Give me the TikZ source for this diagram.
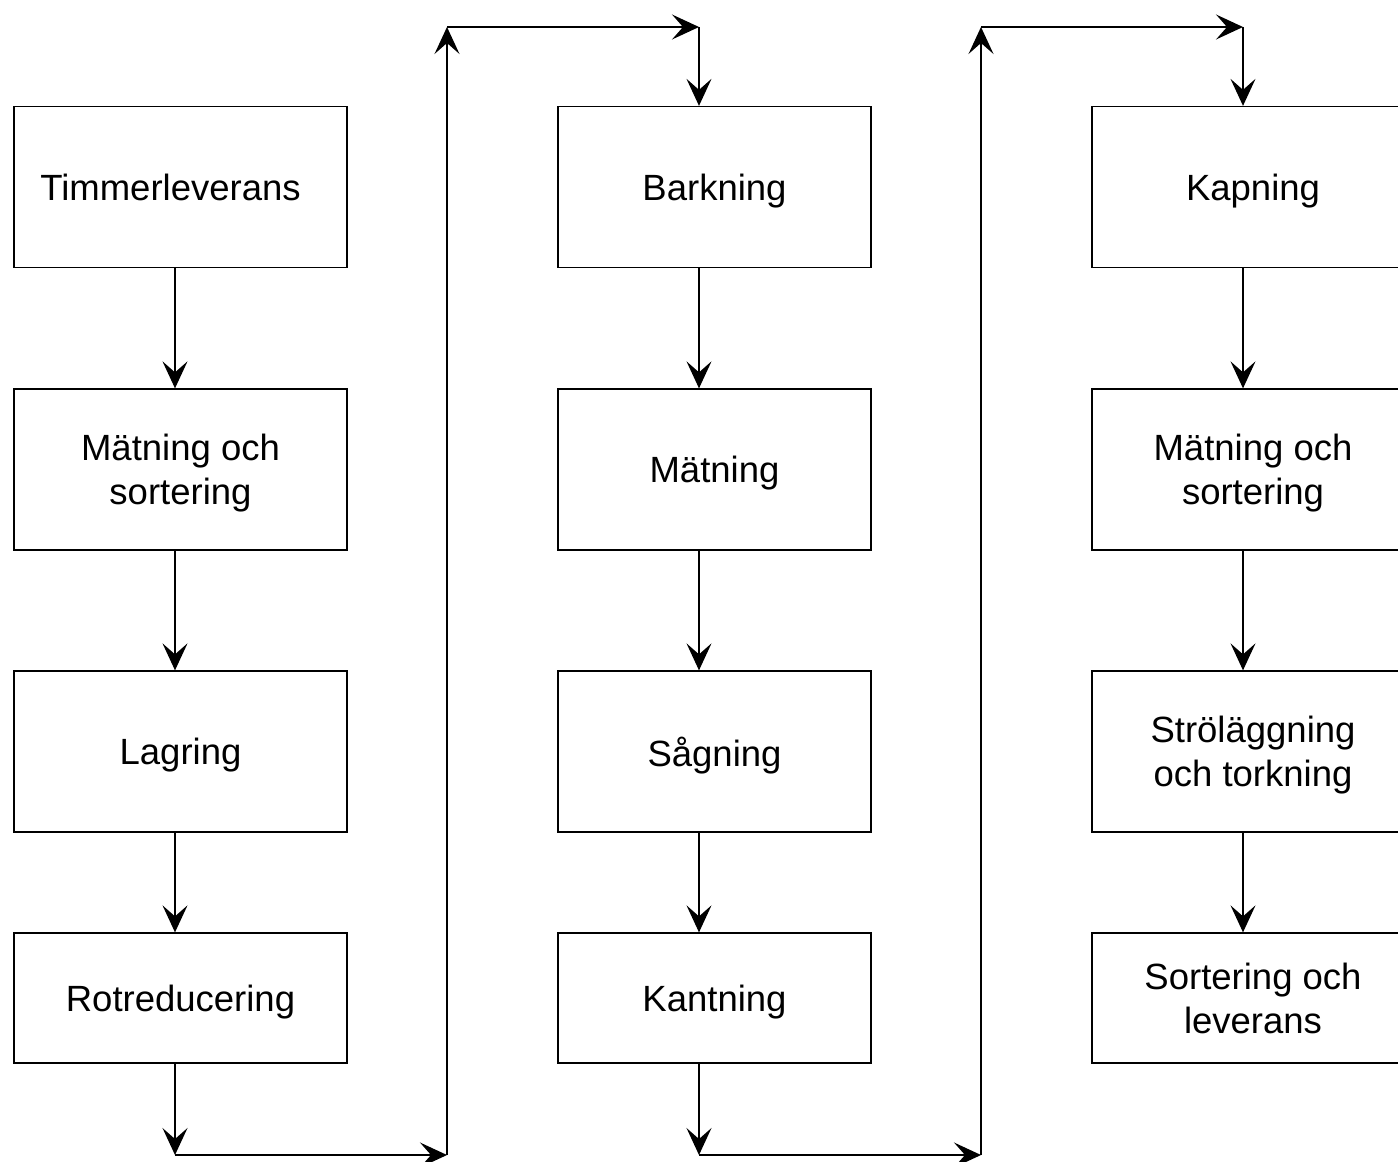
\documentclass[tikz,border=0pt]{standalone}
\usepackage{fontspec}
\setmainfont{Liberation Sans}
\usetikzlibrary{arrows.meta}
\begin{document}
\begin{tikzpicture}[x=1pt,y=-1pt,
  stepbox/.style={draw=black,line width=1.3pt,rectangle,inner sep=0pt,align=center,
    text depth=0pt,font=\fontsize{36.5}{43.8}\selectfont},
  flow/.style={draw=black,line width=1.3pt,-{Stealth[length=27pt,width=25pt,inset=11pt]}},
  tall/.style={minimum height=161pt},
  short/.style={minimum height=130pt},
  colA/.style={minimum width=333pt},
  colB/.style={minimum width=313pt},
  colC/.style={minimum width=322pt}]
\useasboundingbox (0,0) rectangle (1398,1162);
\clip (0,0) rectangle (1398,1162);

% arrow columns
\coordinate (xa) at (175,0);
\coordinate (xb) at (699,0);
\coordinate (xc) at (1243,0);

% first column
\node[stepbox,colA,tall] (a1) at (180.5,187) {\hspace*{-20pt}Timmerleverans};
\node[stepbox,colA,tall] (a2) at (180.5,469.5) {Mätning och\\sortering};
\node[stepbox,colA,tall] (a3) at (180.5,751.5) {Lagring};
\node[stepbox,colA,short] (a4) at (180.5,998) {Rotreducering};

% second column
\node[stepbox,colB,tall] (b1) at (714.5,187) {Barkning};
\node[stepbox,colB,tall] (b2) at (714.5,469.5) {Mätning};
\node[stepbox,colB,tall] (b3) at (714.5,751.5) {Sågning};
\node[stepbox,colB,short] (b4) at (714.5,998) {Kantning};

% third column
\node[stepbox,colC,tall] (c1) at (1253,187) {Kapning};
\node[stepbox,colC,tall] (c2) at (1253,469.5) {Mätning och\\sortering};
\node[stepbox,colC,tall] (c3) at (1253,751.5) {Ströläggning\\och torkning};
\node[stepbox,colC,short] (c4) at (1253,998) {Sortering och\\leverans};

% arrows inside the columns
\draw[flow] (a1.south -| xa) -- (a2.north -| xa);
\draw[flow] (a2.south -| xa) -- (a3.north -| xa);
\draw[flow] (a3.south -| xa) -- (a4.north -| xa);
\draw[flow] (b1.south -| xb) -- (b2.north -| xb);
\draw[flow] (b2.south -| xb) -- (b3.north -| xb);
\draw[flow] (b3.south -| xb) -- (b4.north -| xb);
\draw[flow] (c1.south -| xc) -- (c2.north -| xc);
\draw[flow] (c2.south -| xc) -- (c3.north -| xc);
\draw[flow] (c3.south -| xc) -- (c4.north -| xc);

% links between columns
\coordinate (p1) at (175,1155);
\coordinate (p2) at (447,1155);
\coordinate (p3) at (447,27);
\coordinate (p4) at (699,27);
\draw[flow] (a4.south -| xa) -- (p1);
\draw[flow] (p1) -- (p2);
\draw[flow] (p2) -- (p3);
\draw[flow] (p3) -- (p4);
\draw[flow] (p4) -- (b1.north -| xb);

\coordinate (q1) at (699,1155);
\coordinate (q2) at (981,1155);
\coordinate (q3) at (981,27);
\coordinate (q4) at (1243,27);
\draw[flow] (b4.south -| xb) -- (q1);
\draw[flow] (q1) -- (q2);
\draw[flow] (q2) -- (q3);
\draw[flow] (q3) -- (q4);
\draw[flow] (q4) -- (c1.north -| xc);
\end{tikzpicture}
\end{document}
